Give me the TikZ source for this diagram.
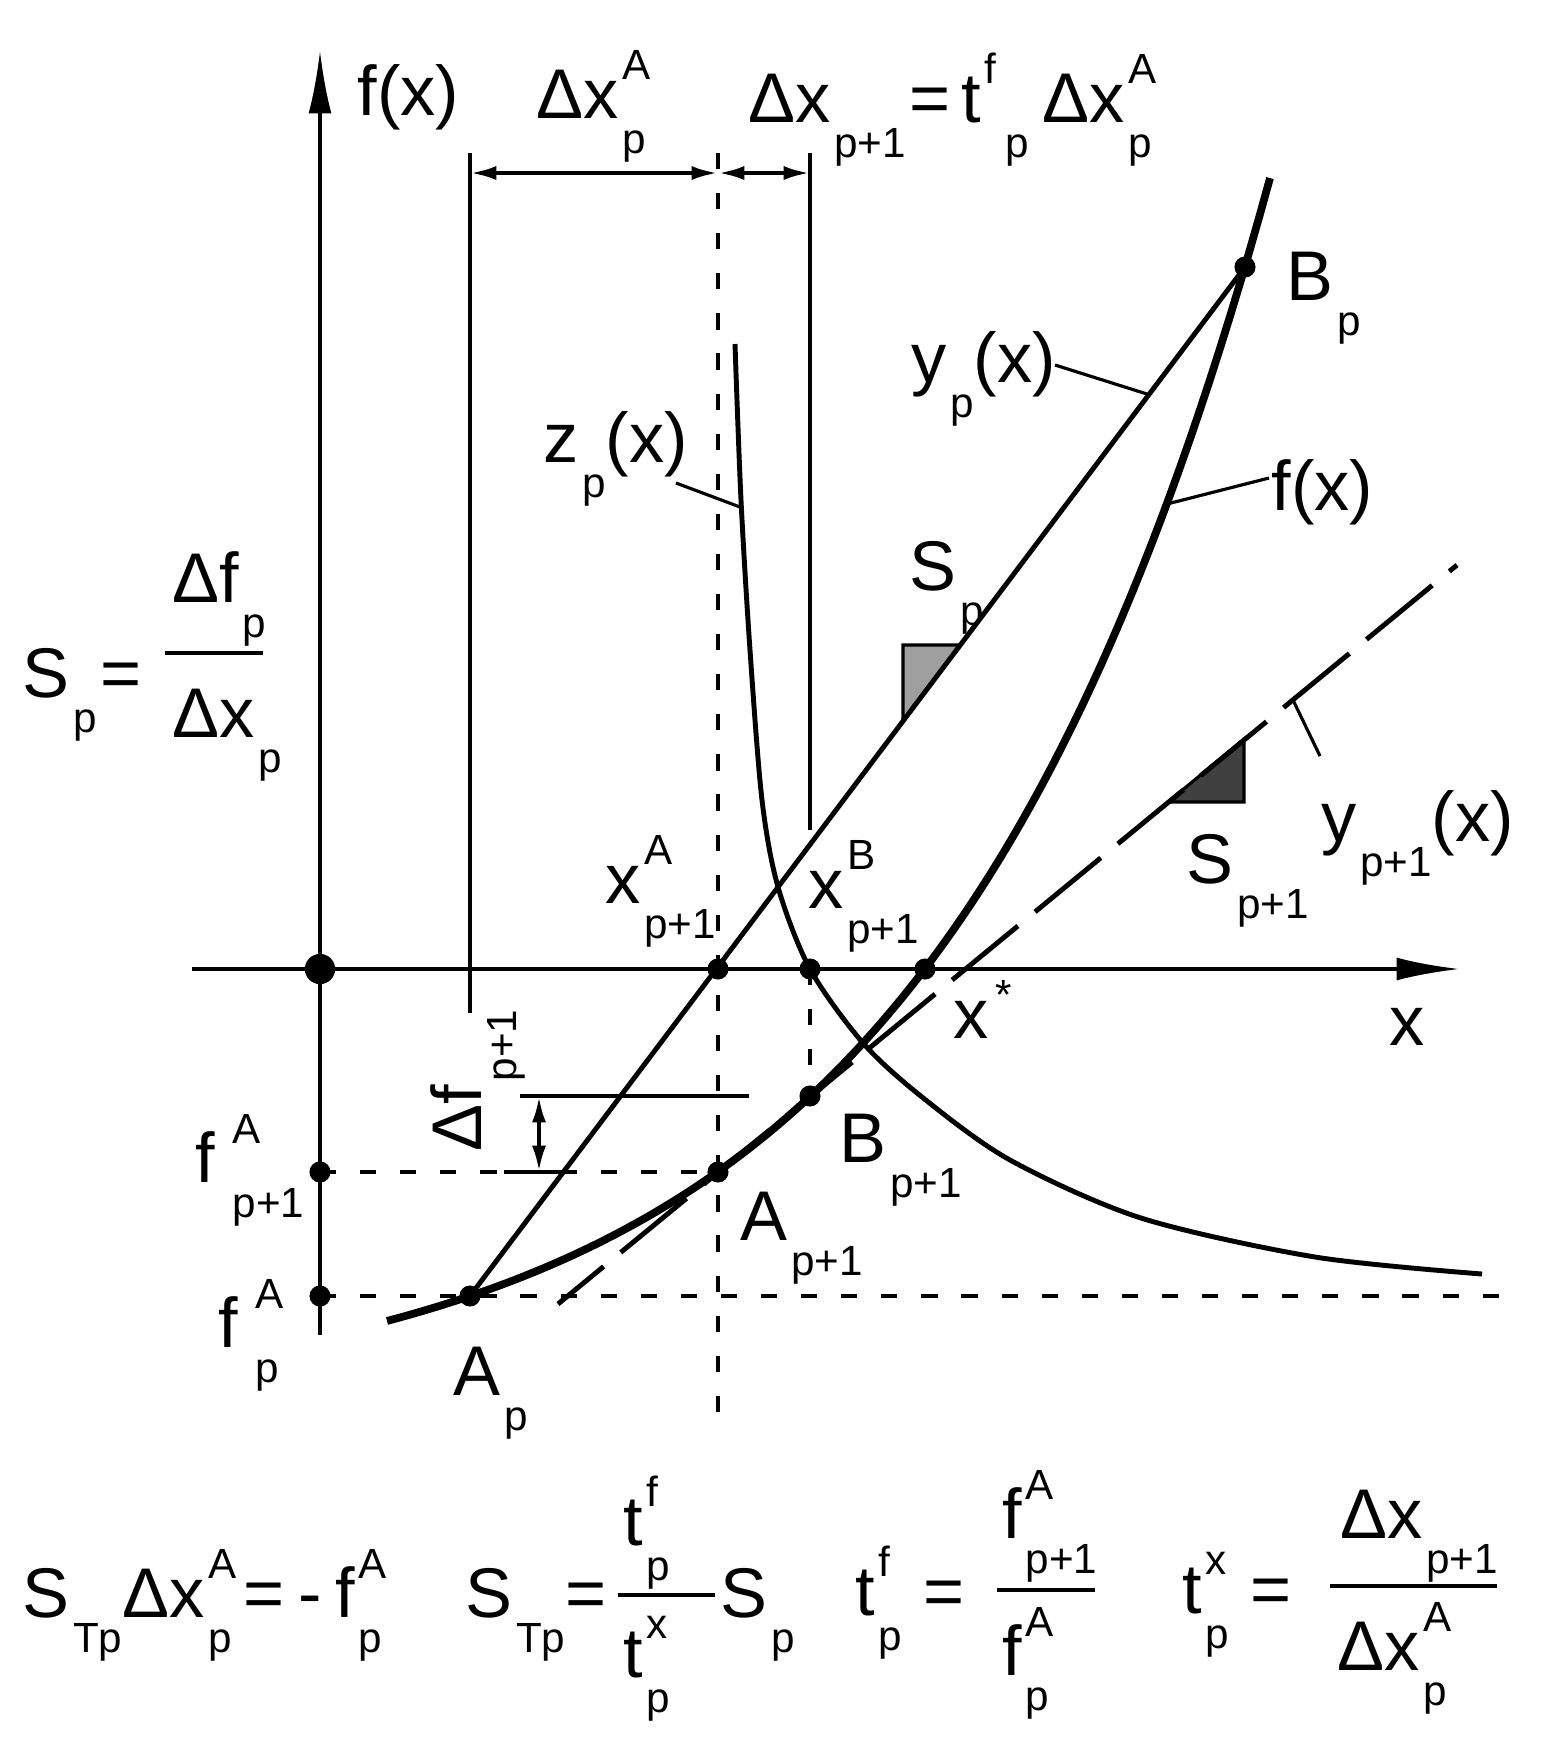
\documentclass[tikz,border=0pt]{standalone}
\usepackage{fontspec}
\setmainfont{Liberation Sans}
\usetikzlibrary{arrows.meta}
\newlength{\supw}
\newlength{\subw}
\newcommand{\smallsz}{\fontsize{12}{14}\selectfont}
\newcommand{\sps}[1]{\kern1pt\raisebox{0.55em}{\smallsz #1}}
\newcommand{\sbs}[1]{\kern1pt\raisebox{-0.5em}{\smallsz #1}}
\newcommand{\spsb}[2]{\settowidth{\supw}{\smallsz #1}\settowidth{\subw}{\smallsz #2}%
  \kern1pt\rlap{\raisebox{0.55em}{\smallsz #1}}\rlap{\raisebox{-0.5em}{\smallsz #2}}%
  \ifdim\supw>\subw\hspace{\supw}\else\hspace{\subw}\fi}
\begin{document}
\begin{tikzpicture}[x=0.01cm, y=-0.01cm,
    lbl/.style={inner sep=0pt, anchor=base west, font=\fontsize{20}{24}\selectfont},
    thinline/.style={line width=0.9pt},
    axis/.style={line width=1.1pt, -{Latex[length=18pt,width=6.5pt]}},
    dimarrow/.style={line width=1.2pt, {Latex[length=7.5pt,width=4pt]}-{Latex[length=7.5pt,width=4pt]}},
    helper/.style={line width=1.1pt, dash pattern=on 4.6pt off 6.8pt},
    bar/.style={line width=1.2pt}]
      \useasboundingbox (0,0) rectangle (1557,1744);
      % points
      \coordinate (O) at (320,969);
      \coordinate (Ap) at (470,1296);
      \coordinate (Bp) at (1245,267);
      \coordinate (Aq) at (718,1172);
      \coordinate (Bq) at (810,1096);
      \coordinate (xA) at (718,969);
      \coordinate (xB) at (810,969);
      \coordinate (xs) at (925,969);
      \coordinate (fAq) at (320,1172);
      \coordinate (fAp) at (320,1296);
      % slope triangles
      \filldraw[fill=gray!75, line width=0.9pt] (903,645) -- (960,645) -- (903,721) -- cycle;
      \filldraw[fill=black!75, line width=0.9pt] (1244,739) -- (1244,802) -- (1168,802) -- cycle;
      % dimensions
      \draw[thinline] (470,153) -- (470,1013);
      \draw[thinline] (810,153) -- (810,830);
      \draw[helper] (718,153) -- (718,1418);
      \draw[dimarrow] (470,173) -- (718,173);
      \draw[dimarrow] (718,173) -- (810,173);
      \draw[thinline] (520,1096) -- (749,1096);
      \draw[thinline] (504,1172) -- (562,1172);
      \draw[dimarrow] (539,1096) -- (539,1172);
      % axes
      \draw[axis] (320,1335) -- (320,50);
      \draw[axis] (192,969) -- (1460,969);
      \draw[helper] (fAq) -- (Aq);
      \draw[helper] (fAp) -- (1517,1296);
      \draw[helper] (xB) -- (Bq);
      % curves
      \draw[line width=2.2pt] plot[domain=387:1270, samples=90] (\x, {1410-exp(3.3375+0.0029755*\x)});
      \draw[line width=1.4pt] (Ap) -- (Bp);
      \draw[line width=1.4pt, dash pattern=on 24.2pt off 6.3pt, dash phase=7.4pt] (558,1304) -- (1457,565);
      \draw[line width=1.4pt] plot[smooth] coordinates {(735,344) (741,500) (750,650) (762,800) (778,887) (810,969) (863,1043) (922,1097) (1010,1160) (1141,1218) (1315,1257) (1482,1274)};
      % dots
      \fill (O) circle[radius=4.3pt];
      \foreach \p in {Ap,Bp,Aq,Bq,xA,xB,xs,fAq,fAp} \fill (\p) circle[radius=3pt];
      % leaders
      \draw[thinline] (1055,365) -- (1147,394);
      \draw[thinline] (676,483) -- (740,507);
      \draw[thinline] (1269,478) -- (1167,504);
      \draw[thinline] (1320,756) -- (1293,700);
      % labels
      \node[lbl] (fxaxis) at (357,115) {f(x)};
      \node[lbl] (dxpA) at (536,118) {Δx\spsb{A}{p}};
      \node[lbl] (dxnext) at (748,122) {Δx\sbs{p+1}\kern1pt=\kern3pt t\rlap{\sps{f}}\kern6pt\sbs{p}\kern4pt Δx\spsb{A}{p}};
      \node[lbl] (lblBp) at (1286,300) {B\sbs{p}};
      \node[lbl] (lblyp) at (911,382) {y\sbs{p}(x)};
      \node[lbl] (lblzp) at (543,462) {z\sbs{p}(x)};
      \node[lbl] (lblfx) at (1271,510) {f(x)};
      \node[lbl] (lblSp) at (909,590) {S\sbs{p}};
      \node[lbl] (lblSq) at (1186,883) {S\sbs{p+1}};
      \node[lbl] (lblyq) at (1321,841) {y\sbs{p+1}(x)};
      \node[lbl] (lblxA) at (605,903) {x\spsb{A}{p+1}};
      \node[lbl] (lblxB) at (808,908) {x\spsb{B}{p+1}};
      \node[lbl] (lblxs) at (953,1038) {x\kern2pt\raisebox{0.4em}{\smallsz *}};
      \node[lbl] (lblx) at (1389,1045) {x};
      \node[lbl] (lblBq) at (839,1162) {B\sbs{p+1}};
      \node[lbl] (lblAq) at (740,1240) {A\sbs{p+1}};
      \node[lbl] (lblAp) at (453,1395) {A\sbs{p}};
      \node[lbl] (lblfAq) at (195,1182) {f\kern4pt\spsb{A}{p+1}};
      \node[lbl] (lblfAp) at (218,1347) {f\kern4pt\spsb{A}{p}};
      \node[lbl, rotate=90] (lbldf) at (481,1152) {Δf\sbs{p+1}};
      % slope formula
      \node[lbl] (slopeL) at (22,697) {S\sbs{p}\kern1pt=};
      \node[lbl] (slopeN) at (172,602) {Δf\sbs{p}};
      \node[lbl] (slopeD) at (172,737) {Δx\sbs{p}};
      \draw[line width=1.4pt] (165,653) -- (263,653);
      % bottom formulas
      \node[lbl] (eqOne) at (22,1617) {S\sbs{Tp}Δx\spsb{A}{p}\kern2pt=\kern4pt-\kern4pt f\spsb{A}{p}};
      \node[lbl] (eqTwoL) at (465,1617) {S\sbs{Tp}=};
      \node[lbl] (eqTwoN) at (623,1545) {t\spsb{f}{p}};
      \node[lbl] (eqTwoD) at (623,1677) {t\spsb{x}{p}};
      \node[lbl] (eqTwoR) at (720,1617) {S\sbs{p}};
      \draw[bar] (618,1595) -- (715,1595);
      \node[lbl] (eqThrL) at (855,1615) {t\spsb{f}{p}\kern6pt=};
      \node[lbl] (eqThrN) at (1002,1538) {f\spsb{A}{p+1}};
      \node[lbl] (eqThrD) at (1002,1675) {f\spsb{A}{p}};
      \draw[bar] (997,1590) -- (1095,1590);
      \node[lbl] (eqFouL) at (1182,1613) {t\spsb{x}{p}\kern6pt=};
      \node[lbl] (eqFouN) at (1340,1538) {Δx\sbs{p+1}};
      \node[lbl] (eqFouD) at (1337,1670) {Δx\spsb{A}{p}};
      \draw[bar] (1330,1586) -- (1497,1586);
\end{tikzpicture}
\end{document}
